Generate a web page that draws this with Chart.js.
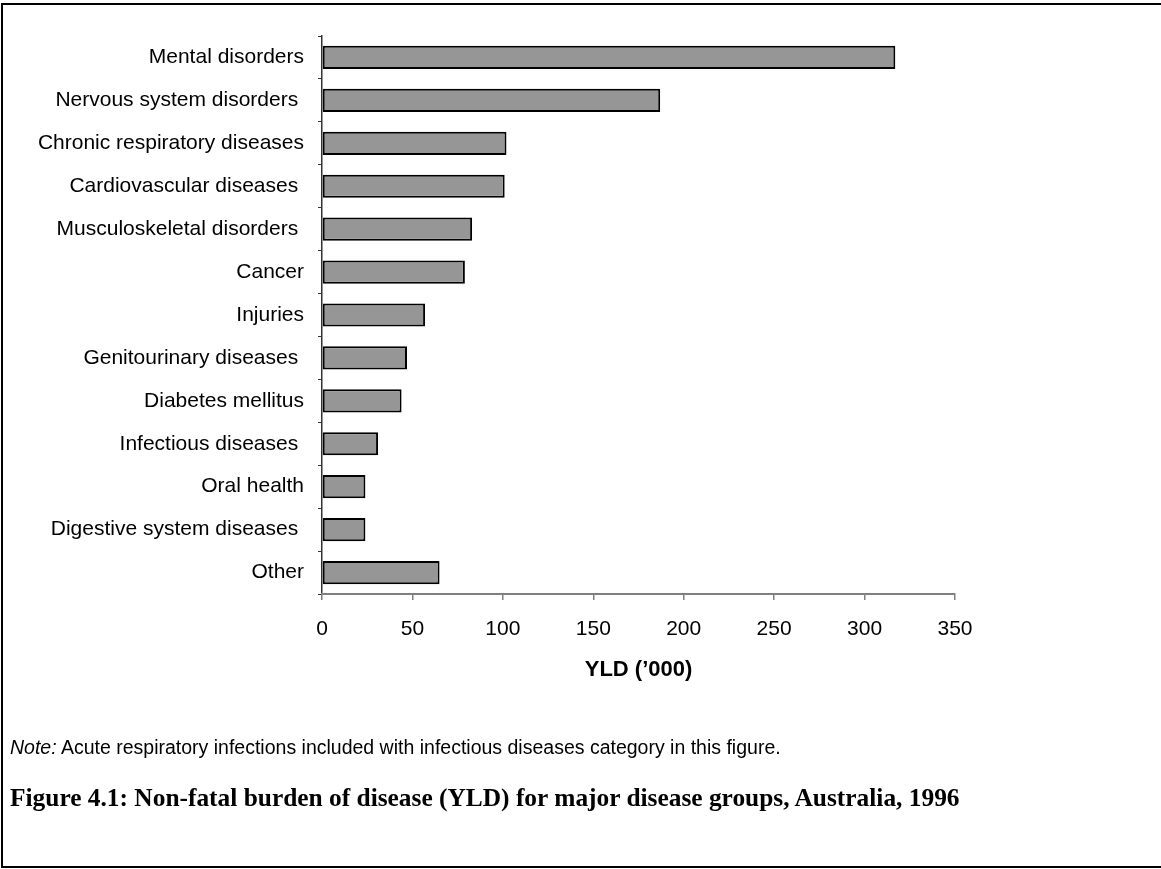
<!DOCTYPE html>
<html>
<head>
<meta charset="utf-8">
<script src="https://cdn.jsdelivr.net/npm/chart.js@4/dist/chart.umd.min.js"></script>
<style>
  html, body { margin: 0; padding: 0; background: #fff; }
  #wrap { position: relative; width: 1161px; height: 869px; overflow: hidden; }
  #frame { position: absolute; left: 1px; top: 3px; width: 1200px; height: 861px;
           border-left: 2px solid #000; border-top: 2px solid #000; border-bottom: 2px solid #000; }
  #chartBox { position: absolute; left: 0; top: 0; width: 1161px; height: 869px; }
  #note { position: absolute; left: 10px; top: 736px; font: 19.5px "Liberation Sans", Arial, sans-serif; color: #000; white-space: nowrap; }
  #caption { position: absolute; left: 10px; top: 783px; font: bold 25.4px "Liberation Serif", "DejaVu Serif", serif; color: #000; white-space: nowrap; }
</style>
</head>
<body>
<div id="wrap">
  <div id="frame"></div>
  <div id="chartBox"><canvas id="grafico"></canvas></div>
  <div id="note"><i>Note:</i> Acute respiratory infections included with infectious diseases category in this figure.</div>
  <div id="caption">Figure 4.1: Non-fatal burden of disease (YLD) for major disease groups, Australia, 1996</div>
</div>
<script>
// === Dados ===
const categorias = [
  'Mental disorders',
  'Nervous system disorders ',
  'Chronic respiratory diseases',
  'Cardiovascular diseases ',
  'Musculoskeletal disorders ',
  'Cancer',
  'Injuries',
  'Genitourinary diseases ',
  'Diabetes mellitus',
  'Infectious diseases ',
  'Oral health',
  'Digestive system diseases ',
  'Other'
];
const yld = [317, 187, 102, 101, 83, 79, 57, 47, 44, 31, 24, 24, 65];
const xTicks = [0, 50, 100, 150, 200, 250, 300, 350];
const tituloEixo = "YLD (\u2019000)";

const fonte = '"Liberation Sans", Arial, sans-serif';

const ctx = document.getElementById('grafico').getContext('2d');
new Chart(ctx, {
  type: 'bar',
  data: {
    labels: categorias,
    datasets: [{
      data: yld,
      backgroundColor: '#969696',
      borderColor: '#000',
      borderWidth: 2,
      borderSkipped: false,
      barPercentage: 0.54,
      categoryPercentage: 1
    }]
  },
  options: {
    indexAxis: 'y',
    responsive: true,
    maintainAspectRatio: false,
    animation: false,
    layout: { padding: { left: 0, right: 206, top: 36, bottom: 0 } },
    plugins: { legend: { display: false }, tooltip: { enabled: false } },
    scales: {
      y: {
        grid: { display: true, drawOnChartArea: false, offset: true, tickLength: 4, color: '#333', lineWidth: 1 },
        border: { color: '#333', width: 1.5 },
        ticks: { color: '#000', font: { family: fonte, size: 21 }, padding: 14 },
        afterFit: s => { s.width = 322; }
      },
      x: {
        min: 0,
        max: 350,
        afterBuildTicks: s => { s.ticks = xTicks.map(v => ({ value: v })); },
        grid: { display: true, drawOnChartArea: false, tickLength: 6, color: '#808080', lineWidth: 1.5 },
        border: { color: '#808080', width: 2 },
        ticks: { color: '#000', font: { family: fonte, size: 21 }, padding: 17, maxRotation: 0 },
        title: {
          display: true,
          text: tituloEixo,
          color: '#000',
          font: { family: fonte, size: 22, weight: 'bold' },
          padding: { top: 0, bottom: 186 }
        },
        afterFit: s => { s.height = 869 - 594; }
      }
    }
  }
});
</script>
</body>
</html>
